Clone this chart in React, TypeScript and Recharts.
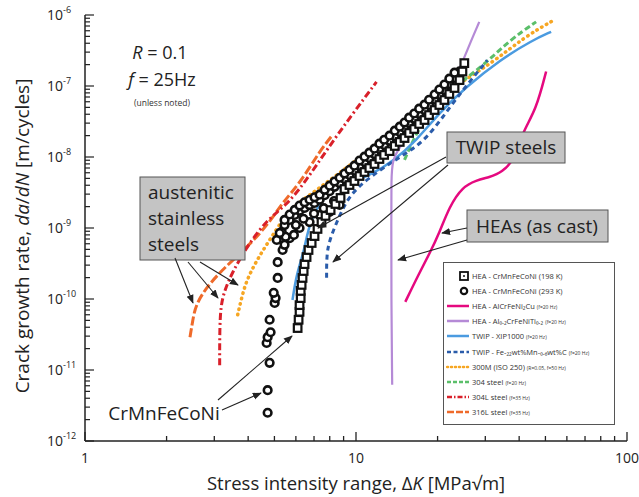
import React from "react";
import {
  ComposedChart,
  Line,
  Scatter,
  XAxis,
  YAxis,
  Legend,
} from "recharts";

const FONT = "'Open Sans', sans-serif";

// [ΔK (MPa√m), da/dN (m/cycle)]
const hea198K = [
  [6.09, 3.9e-11], [6.14, 5.1e-11], [6.19, 6.6e-11], [6.19, 8.2e-11], [6.25, 1.03e-10],
  [6.25, 1.3e-10], [6.3, 1.58e-10], [6.35, 1.98e-10], [6.41, 2.48e-10], [6.46, 3.1e-10],
  [6.57, 3.9e-10], [6.68, 4.9e-10], [6.86, 6.15e-10], [7.03, 7.7e-10], [7.21, 9.7e-10],
  [7.46, 1.21e-9], [7.72, 1.48e-9], [8.06, 1.79e-9], [8.4, 2.18e-9], [8.77, 2.65e-9],
  [9.07, 3.54e-9], [9.46, 4.03e-9], [9.87, 4.59e-9], [10.3, 5.4e-9], [10.75, 6.15e-9],
  [11.2, 7.0e-9], [11.7, 7.97e-9], [12.2, 9.37e-9], [12.7, 1.07e-8], [13.3, 1.21e-8],
  [13.9, 1.43e-8], [14.5, 1.63e-8], [15.1, 1.85e-8], [15.7, 2.18e-8], [16.4, 2.48e-8],
  [17.1, 2.92e-8], [17.9, 3.32e-8], [18.6, 3.9e-8], [19.5, 4.59e-8], [20.3, 5.4e-8],
  [21.2, 6.35e-8], [22.1, 7.72e-8], [23.1, 9.37e-8], [24.1, 1.21e-7], [24.7, 1.6e-7],
  [25.1, 2.1e-7],
];

// vertical run, lower cloud and the two rows of the dense band
const hea293K = [
  [4.72, 2.5e-12], [4.72, 5.2e-12], [4.8, 1.26e-11], [4.68, 2.4e-11], [4.72, 2.9e-11],
  [4.84, 3.4e-11], [4.8, 5.1e-11], [5.01, 8.8e-11], [5.05, 1.03e-10], [4.97, 1.22e-10],
  [5.14, 1.98e-10], [5.14, 3.3e-10], [5.36, 4.9e-10], [5.1, 6.8e-10], [5.32, 8.8e-10],
  [5.45, 5.8e-10], [5.69, 7.2e-10], [6.19, 1.0e-9], [6.74, 1.21e-9], [7.34, 1.52e-9],
  [7.99, 1.68e-9], [8.7, 2.11e-9], [5.5, 7.5e-10], [5.9, 8.0e-10], [6.0, 1.1e-9],
  [6.4, 1.35e-9], [7.0, 1.6e-9], [7.6, 1.9e-9], [8.3, 2.4e-9],
  [5.23, 8.5e-10], [5.45, 1.1e-9], [5.69, 1.3e-9], [5.94, 1.53e-9], [6.19, 1.75e-9],
  [6.46, 1.92e-9], [6.74, 2.1e-9], [7.03, 2.25e-9], [7.34, 2.5e-9], [7.66, 2.9e-9],
  [7.99, 3.3e-9], [8.33, 3.8e-9], [8.7, 4.3e-9], [9.07, 4.9e-9], [9.46, 5.6e-9],
  [9.87, 6.4e-9], [10.3, 7.5e-9], [10.75, 8.5e-9], [11.2, 9.7e-9], [11.7, 1.1e-8],
  [12.2, 1.3e-8], [12.7, 1.48e-8], [13.3, 1.69e-8], [13.9, 1.98e-8], [14.5, 2.25e-8],
  [15.1, 2.57e-8], [15.7, 3.0e-8], [16.4, 3.45e-8], [17.1, 4.05e-8], [17.9, 4.6e-8],
  [18.6, 5.4e-8], [19.5, 6.4e-8], [20.3, 7.5e-8], [21.2, 8.8e-8], [22.1, 1.07e-7],
  [23.1, 1.3e-7], [24.1, 1.6e-7],
  [5.45, 1.3e-9], [5.69, 1.55e-9], [5.94, 1.8e-9], [6.19, 2.07e-9], [6.46, 2.3e-9],
  [6.74, 2.5e-9], [7.03, 2.7e-9], [7.34, 2.95e-9], [7.66, 3.45e-9], [7.99, 3.95e-9],
  [8.33, 4.5e-9], [8.7, 5.1e-9], [9.07, 5.85e-9], [9.46, 6.6e-9], [9.87, 7.55e-9],
  [10.3, 8.9e-9], [10.75, 1.01e-8], [11.2, 1.15e-8], [11.7, 1.31e-8], [12.2, 1.54e-8],
  [12.7, 1.75e-8], [13.3, 2.0e-8], [13.9, 2.35e-8], [14.5, 2.67e-8], [15.1, 3.05e-8],
  [15.7, 3.58e-8], [16.4, 4.1e-8], [17.1, 4.8e-8], [17.9, 5.46e-8], [18.6, 6.4e-8],
  [19.5, 7.56e-8], [20.3, 8.9e-8], [21.2, 1.05e-7], [22.1, 1.27e-7], [23.1, 1.54e-7],
];

const alCrFeNi2Cu = [
  [15.2, 9.1e-11], [17.1, 2.3e-10], [18.7, 4.4e-10], [20.3, 8.5e-10], [22.1, 2.0e-9],
  [24.7, 3.8e-9], [27.8, 4.7e-9], [31.0, 5.2e-9], [34.6, 6.0e-9], [39.0, 1.0e-8],
  [41.0, 2.2e-8], [46.2, 4.6e-8], [50.3, 1.6e-7],
];

const al02CrFeNiTi02 = [
  [13.6, 6.2e-12], [13.5, 1.0e-10], [13.5, 1.3e-9], [13.5, 4.7e-9], [13.6, 9.1e-9],
  [14.5, 1.38e-8], [16.1, 2.4e-8], [19.1, 4.6e-8], [22.1, 8.8e-8], [24.5, 2.0e-7],
  [26.2, 3.8e-7], [28.5, 8.0e-7],
];

const twipXip1000 = [
  [5.83, 9.7e-11], [6.04, 2.3e-10], [6.46, 4.9e-10], [6.74, 1.3e-9], [7.79, 3.1e-9],
  [8.7, 3.8e-9], [11.4, 5.6e-9], [13.6, 8.5e-9], [16.7, 1.7e-8], [20.3, 4.2e-8],
  [25.5, 9.7e-8], [33.8, 2.3e-7], [44.7, 4.4e-7], [52.5, 5.8e-7],
];

const twipFeMnC = [
  [7.79, 2.0e-10], [7.79, 4.2e-10], [7.98, 6.8e-10], [8.69, 1.5e-9], [9.46, 2.9e-9],
  [11.2, 5.2e-9], [14.5, 1.0e-8], [18.2, 1.7e-8], [23.1, 6.35e-8], [30.5, 2.3e-7],
];

const steel300M = [
  [3.66, 6.0e-11], [3.79, 1.07e-10], [3.95, 1.85e-10], [4.3, 3.5e-10], [4.8, 6.8e-10],
  [5.36, 1.3e-9], [5.83, 1.98e-9], [7.14, 3.4e-9], [8.7, 6.0e-9], [10.9, 1.14e-8],
  [14.5, 2.8e-8], [21.6, 8.5e-8], [31.8, 2.1e-7], [41.8, 4.9e-7], [53.8, 8.5e-7],
];

const steel304 = [
  [15.1, 9.1e-9], [16.7, 2.2e-8], [18.7, 4.2e-8], [22.1, 8.8e-8], [29.2, 1.85e-7],
  [36.8, 4.4e-7], [46.2, 8.0e-7],
];

const steel304L = [
  [3.14, 1.17e-11], [3.14, 3.7e-11], [3.17, 8.2e-11], [3.28, 1.34e-10], [3.48, 2.3e-10],
  [3.95, 5.4e-10], [4.68, 1.3e-9], [5.55, 2.1e-9], [6.57, 4.74e-9], [7.79, 1.25e-8],
  [9.6, 3.8e-8], [11.9, 1.14e-7],
];

const steel316L = [
  [2.44, 2.9e-11], [2.5, 5.1e-11], [2.56, 8.2e-11], [2.81, 1.48e-10], [3.28, 2.8e-10],
  [4.05, 5.8e-10], [4.8, 1.2e-9], [5.36, 2.3e-9], [6.19, 4.2e-9], [7.34, 1.2e-8],
  [8.19, 2.04e-8],
];

const xTicks = [1, 2, 3, 4, 5, 6, 7, 8, 9, 10, 20, 30, 40, 50, 60, 70, 80, 90, 100];
const xMajor = [1, 10, 100];
const yMajor = [1e-12, 1e-11, 1e-10, 1e-9, 1e-8, 1e-7, 1e-6];
const yTicks = yMajor.flatMap((d, i) =>
  i === yMajor.length - 1 ? [d] : [1, 2, 3, 4, 5, 6, 7, 8, 9].map((m) => m * d)
);

const pts = (a: number[][]) => a.map(([k, r]) => ({ k, r }));

const isDecade = (v: number) => {
  const e = Math.log10(v);
  return Math.abs(e - Math.round(e)) < 1e-6;
};

const AX = "#222";
const LEFT_GAP = 38;

const BottomTick = (p: any) => {
  const { x, y, payload } = p;
  const major = xMajor.includes(payload.value);
  return (
    <g>
      <line x1={x} x2={x} y1={y} y2={y - (major ? 9 : 5)} stroke={AX} strokeWidth={1.3} />
      {major && (
        <text x={x} y={y + 22} textAnchor="middle" fontSize={14} fill="#222" fontFamily={FONT}>
          {payload.value}
        </text>
      )}
    </g>
  );
};

const TopTick = (p: any) => {
  const { x, y, payload } = p;
  const major = xMajor.includes(payload.value);
  return <line x1={x} x2={x} y1={y} y2={y + (major ? 9 : 5)} stroke={AX} strokeWidth={1.3} />;
};

const LeftTick = (p: any) => {
  const { x, y, payload } = p;
  const major = isDecade(payload.value);
  const ax = x + LEFT_GAP;
  return (
    <g>
      <line x1={ax} x2={ax + (major ? 9 : 5)} y1={y} y2={y} stroke={AX} strokeWidth={1.2} />
      {major && (
        <text x={x} y={y + 5} fontSize={14} fill="#222" fontFamily={FONT}>
          10
          <tspan fontSize={9} dy={-7}>
            {Math.round(Math.log10(payload.value))}
          </tspan>
        </text>
      )}
    </g>
  );
};

const RightTick = (p: any) => {
  const { x, y, payload } = p;
  const major = isDecade(payload.value);
  return <line x1={x} x2={x - (major ? 9 : 5)} y1={y} y2={y} stroke={AX} strokeWidth={1.2} />;
};

const legendRows = [
  { icon: "square", label: "HEA - CrMnFeCoNi (198 K)", note: "" },
  { icon: "circle", label: "HEA - CrMnFeCoNi (293 K)", note: "" },
  { icon: "line", color: "#e5097f", dash: "", label: "HEA - AlCrFeNi₂Cu", note: "(f=20 Hz)" },
  { icon: "line", color: "#b58ad6", dash: "", label: "HEA - Al₀.₂CrFeNiTi₀.₂", note: "(f=20 Hz)" },
  { icon: "line", color: "#4b9be0", dash: "", label: "TWIP - XIP1000", note: "(f=20 Hz)" },
  { icon: "line", color: "#2a5caa", dash: "4 2.5", label: "TWIP - Fe-₂₂wt%Mn-₀.₆wt%C", note: "(f=20 Hz)" },
  { icon: "line", color: "#f6a623", dash: "1 3", label: "300M (ISO 250)", note: "(R=0.05, f=50 Hz)" },
  { icon: "line", color: "#5bbf6a", dash: "4 2", label: "304 steel", note: "(f=20 Hz)" },
  { icon: "line", color: "#d9202a", dash: "5 2 1.5 2", label: "304L steel", note: "(f=35 Hz)" },
  { icon: "line", color: "#ef6a2a", dash: "7 2", label: "316L steel", note: "(f=35 Hz)" },
];

const LegendBox = () => (
  <div
    style={{
      border: "1px solid #555",
      background: "#fff",
      width: 172,
      height: 163,
      boxSizing: "border-box",
      paddingTop: 5,
      fontFamily: FONT,
      color: "#333",
    }}
  >
    {legendRows.map((row) => (
      <div key={row.label} style={{ height: 15.2, display: "flex", alignItems: "center" }}>
        <svg width={24} height={10} style={{ marginLeft: 2 }}>
          {row.icon === "square" && (
            <g>
              <rect x={14} y={1} width={8} height={8} fill="#fff" stroke="#111" strokeWidth={1.8} />
              <circle cx={18} cy={5} r={1} fill="#111" />
            </g>
          )}
          {row.icon === "circle" && (
            <circle cx={18} cy={5} r={3.2} fill="#fff" stroke="#111" strokeWidth={2.2} />
          )}
          {row.icon === "line" && (
            <line
              x1={1}
              x2={23}
              y1={5}
              y2={5}
              stroke={row.color}
              strokeWidth={2.5}
              strokeDasharray={row.dash || undefined}
              strokeLinecap={row.dash === "1 3" ? "round" : "butt"}
            />
          )}
        </svg>
        <span style={{ fontSize: 7.5, marginLeft: 2, whiteSpace: "nowrap" }}>
          {row.label}
          {row.note && <span style={{ fontSize: 5, marginLeft: 2 }}>{row.note}</span>}
        </span>
      </div>
    ))}
  </div>
);

const circleShape = (p: any) => (
  <circle cx={p.cx} cy={p.cy} r={3.8} fill="#fff" stroke="#111" strokeWidth={2.6} />
);
const squareShape = (p: any) => (
  <rect x={p.cx - 3.8} y={p.cy - 3.8} width={7.6} height={7.6} fill="#fff" stroke="#111" strokeWidth={2.2} />
);

const lineSeries = [
  { name: "316L", data: steel316L, color: "#ef6a2a", dash: "9 3", width: 3 },
  { name: "304L", data: steel304L, color: "#d9202a", dash: "7 3 2 3", width: 3 },
  { name: "300M", data: steel300M, color: "#f6a623", dash: "0.5 5", width: 3.5, round: true },
  { name: "304", data: steel304, color: "#5bbf6a", dash: "6 3", width: 3 },
  { name: "XIP1000", data: twipXip1000, color: "#4b9be0", dash: "", width: 2.5 },
  { name: "FeMnC", data: twipFeMnC, color: "#2a5caa", dash: "5 4", width: 3 },
  { name: "Al02", data: al02CrFeNiTi02, color: "#b58ad6", dash: "", width: 2.2 },
  { name: "AlCu", data: alCrFeNi2Cu, color: "#e5097f", dash: "", width: 2.5 },
];

const Arrow = ({ x1, y1, x2, y2 }: any) => (
  <line x1={x1} y1={y1} x2={x2} y2={y2} stroke="#222" strokeWidth={1.1} markerEnd="url(#ah)" />
);

export default function App() {
  return (
    <div
      style={{
        position: "absolute",
        left: 0,
        top: 0,
        width: 639,
        height: 497,
        background: "#fff",
        overflow: "hidden",
        fontFamily: FONT,
      }}
    >
      <ComposedChart width={639} height={497} margin={{ top: 15, right: 12, bottom: 0, left: 0 }}>
        <XAxis
          dataKey="k"
          type="number"
          scale="log"
          domain={[1, 100]}
          allowDataOverflow
          ticks={xTicks}
          interval={0}
          height={56}
          tickSize={0}
          tickMargin={0}
          tickLine={false}
          tick={BottomTick}
          axisLine={{ stroke: AX, strokeWidth: 1.5 }}
        />
        <XAxis
          xAxisId="top"
          orientation="top"
          type="number"
          scale="log"
          domain={[1, 100]}
          allowDataOverflow
          ticks={xTicks}
          interval={0}
          height={0}
          tickSize={0}
          tickMargin={0}
          tickLine={false}
          tick={TopTick}
          axisLine={{ stroke: AX, strokeWidth: 1.5 }}
        />
        <YAxis
          dataKey="r"
          type="number"
          scale="log"
          domain={[1e-12, 1e-6]}
          allowDataOverflow
          ticks={yTicks}
          interval={0}
          width={85}
          tickSize={0}
          tickMargin={LEFT_GAP}
          tickLine={false}
          tick={LeftTick}
          axisLine={{ stroke: AX, strokeWidth: 1.5 }}
        />
        <YAxis
          yAxisId="right"
          orientation="right"
          type="number"
          scale="log"
          domain={[1e-12, 1e-6]}
          allowDataOverflow
          ticks={yTicks}
          interval={0}
          width={0}
          tickSize={0}
          tickMargin={0}
          tickLine={false}
          tick={RightTick}
          axisLine={{ stroke: AX, strokeWidth: 1.5 }}
        />
        {lineSeries.map((s) => (
          <Line
            key={s.name}
            data={pts(s.data)}
            dataKey="r"
            type="basis"
            stroke={s.color}
            strokeWidth={s.width}
            strokeDasharray={s.dash || undefined}
            strokeLinecap={s.round ? "round" : "butt"}
            dot={false}
            activeDot={false}
            isAnimationActive={false}
          />
        ))}
        <Scatter data={pts(hea293K)} dataKey="r" shape={circleShape} isAnimationActive={false} />
        <Scatter data={pts(hea198K)} dataKey="r" shape={squareShape} isAnimationActive={false} />
        <Legend
          content={<LegendBox />}
          layout="vertical"
          align="center"
          verticalAlign="middle"
          wrapperStyle={{ left: 443, top: 262, width: 172, height: 163 }}
        />
      </ComposedChart>

      <svg
        width={639}
        height={497}
        style={{ position: "absolute", left: 0, top: 0, pointerEvents: "none" }}
        fontFamily={FONT}
      >
        <defs>
          <marker id="ah" viewBox="0 0 10 10" refX="9" refY="5" markerWidth="9" markerHeight="9"
            markerUnits="userSpaceOnUse" orient="auto">
            <path d="M0,1 L10,5 L0,9 z" fill="#222" />
          </marker>
        </defs>

        {/* axis titles */}
        <text x={356} y={490} textAnchor="middle" fontSize={18.5} fill="#222">
          Stress intensity range, Δ<tspan fontStyle="italic">K</tspan> [MPa√m]
        </text>
        <text transform="translate(29,236) rotate(-90)" textAnchor="middle" fontSize={19} fill="#222">
          Crack growth rate, <tspan fontStyle="italic">da</tspan>/<tspan fontStyle="italic">dN</tspan> [m/cycles]
        </text>

        {/* test conditions */}
        <text x={160} y={59} textAnchor="middle" fontSize={18} fill="#222">
          <tspan fontStyle="italic">R</tspan> = 0.1
        </text>
        <text x={162} y={86} textAnchor="middle" fontSize={18} fill="#222">
          <tspan fontStyle="italic">f</tspan> = 25Hz
        </text>
        <text x={162} y={106} textAnchor="middle" fontSize={8.5} fill="#333">
          (unless noted)
        </text>

        {/* austenitic stainless steels */}
        <rect x={140} y={177} width={105} height={83} fill="#c4c4c4" stroke="#555" strokeWidth={1} />
        <text x={148} y={199} fontSize={19} fill="#222">austenitic</text>
        <text x={148} y={225} fontSize={19} fill="#222">stainless</text>
        <text x={148} y={251} fontSize={19} fill="#222">steels</text>
        <Arrow x1={175} y1={258} x2={193} y2={303} />
        <Arrow x1={188} y1={262} x2={218} y2={298} />
        <Arrow x1={200} y1={262} x2={238} y2={285} />

        {/* TWIP steels */}
        <rect x={447} y={132} width={118} height={31} fill="#c4c4c4" stroke="#555" strokeWidth={1} />
        <text x={506} y={154} textAnchor="middle" fontSize={19} fill="#222">TWIP steels</text>
        <Arrow x1={446} y1={157} x2={318} y2={228} />
        <Arrow x1={448} y1={165} x2={333} y2={262} />

        {/* HEAs (as cast) */}
        <rect x={467} y={210} width={141} height={32} fill="#c4c4c4" stroke="#555" strokeWidth={1} />
        <text x={537} y={233} textAnchor="middle" fontSize={19} fill="#222">HEAs (as cast)</text>
        <Arrow x1={467} y1={228} x2={442} y2={233} />
        <Arrow x1={467} y1={240} x2={398} y2={260} />

        {/* CrMnFeCoNi */}
        <text x={164} y={420} textAnchor="middle" fontSize={19} fill="#222">CrMnFeCoNi</text>
        <Arrow x1={218} y1={400} x2={292} y2={336} />
        <Arrow x1={222} y1={410} x2={261} y2={393} />
      </svg>
    </div>
  );
}
